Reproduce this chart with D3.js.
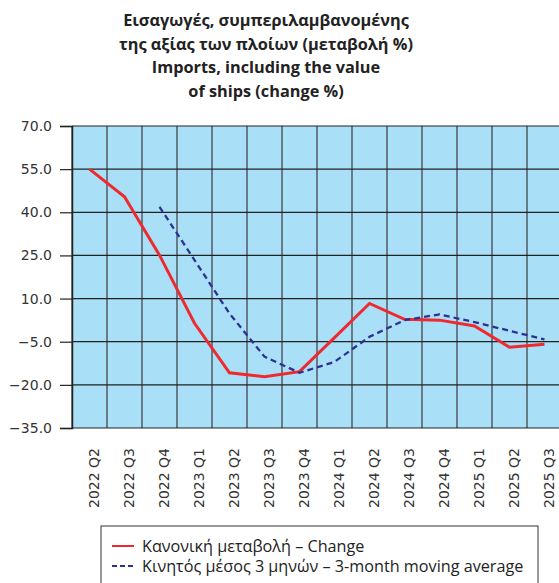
<!DOCTYPE html>
<html><head><meta charset="utf-8">
<script src="https://cdn.jsdelivr.net/npm/d3@7"></script>
<style>body{margin:0;background:#fff;} svg{display:block;}</style>
</head><body>
<svg id="c" width="559" height="583"></svg>
<script>
const categories = ["2022 Q2","2022 Q3","2022 Q4","2023 Q1","2023 Q2","2023 Q3","2023 Q4","2024 Q1","2024 Q2","2024 Q3","2024 Q4","2025 Q1","2025 Q2","2025 Q3"];
const changeValues = [55.0, 45.4, 25.1, 1.4, -15.8, -17.2, -15.4, -3.6, 8.3, 2.8, 2.5, 0.5, -6.9, -5.9];
const movingAvgValues = [null, null, 41.9, 23.4, 4.8, -10.2, -15.8, -12.0, -3.3, 2.5, 4.5, 1.8, -1.2, -4.2];
const yTicks = [70, 55, 40, 25, 10, -5, -20, -35];
const titleLines = ["Εισαγωγές, συμπεριλαμβανομένης","της αξίας των πλοίων (μεταβολή %)","Imports, including the value","of ships (change %)"];
const legendItems = [
  {label:"Κανονική μεταβολή – Change", color:"#ee2a2f", dash:null},
  {label:"Κινητός μέσος 3 μηνών – 3-month moving average", color:"#2e3192", dash:"5,3"}
];

const svg = d3.select("#c");
const L = 72, T = 126, W = 490, H = 302;
const x = d3.scaleBand().domain(categories).range([L, L+W]).padding(0);
const y = d3.scaleLinear().domain([-35, 70]).range([T+H, T]);

// title
svg.append("g").selectAll("text").data(titleLines).join("text")
  .attr("x", 266).attr("y", (d,i)=>26 + i*23.5)
  .attr("text-anchor","middle")
  .style("font-family","'Open Sans', sans-serif").style("font-weight","bold").style("font-size","16.3px").style("fill","#222")
  .text(d=>d);

// plot bg
svg.append("rect").attr("x",L).attr("y",T).attr("width",W).attr("height",H).attr("fill","#aadff8");

// vertical grid
const vx = categories.map(c=>x(c)).concat([L+W]);
svg.append("g").selectAll("line").data(vx).join("line")
  .attr("x1",d=>d).attr("x2",d=>d).attr("y1",T).attr("y2",T+H)
  .attr("stroke","#3a3a3a").attr("stroke-width",1.2);

// y axis with ticks extending as gridlines
const yAxis = d3.axisLeft(y).tickValues(yTicks).tickFormat(d3.format(".1f")).tickSize(12).tickPadding(8);
const ya = svg.append("g").attr("transform",`translate(${L},0)`).call(yAxis);
ya.select(".domain").attr("stroke","#222").attr("stroke-width",1.5);
ya.selectAll(".tick line").attr("stroke","#222").attr("stroke-width",1.2);
ya.selectAll(".tick text").style("font-family","'DejaVu Sans', sans-serif").style("font-size","14px").style("fill","#333");
svg.append("g").selectAll("line").data(yTicks).join("line")
  .attr("x1",L).attr("x2",L+W).attr("y1",d=>y(d)).attr("y2",d=>y(d))
  .attr("stroke","#222").attr("stroke-width",1.2);

// x axis
const xAxis = d3.axisBottom(x).tickSize(0).tickPadding(0);
const xa = svg.append("g").attr("transform",`translate(0,${T+H})`).call(xAxis);
xa.select(".domain").remove();
xa.selectAll(".tick text")
  .attr("transform","translate(5,20) rotate(-90)")
  .attr("text-anchor","end").attr("dy","0.35em").attr("y",0)
  .style("font-family","'DejaVu Sans', sans-serif").style("font-size","14px").style("fill","#333");

const cx = c => x(c) + x.bandwidth()/2;
// lines
const redLine = d3.line().x((d,i)=>cx(categories[i])).y(d=>y(d));
svg.append("path").datum(changeValues).attr("d",redLine)
  .attr("fill","none").attr("stroke","#ee2a2f").attr("stroke-width",3).attr("stroke-linejoin","miter");
const blueLine = d3.line().defined(d=>d!==null).x((d,i)=>cx(categories[i])).y(d=>y(d));
svg.append("path").datum(movingAvgValues).attr("d",blueLine)
  .attr("fill","none").attr("stroke","#2e3192").attr("stroke-width",2.3).attr("stroke-dasharray","6,4");

// legend
svg.append("rect").attr("x",101).attr("y",526).attr("width",437).attr("height",70)
  .attr("fill","#fff").attr("stroke","#333").attr("stroke-width",1);
const lg = svg.append("g").selectAll("g").data(legendItems).join("g")
  .attr("transform",(d,i)=>`translate(0,${546 + i*20})`);
lg.append("line").attr("x1",112).attr("x2",134).attr("y1",0).attr("y2",0)
  .attr("stroke",d=>d.color).attr("stroke-width",2).attr("stroke-dasharray",d=>d.dash);
lg.append("text").attr("x",142).attr("y",0).attr("dy","0.35em")
  .style("font-family","'Open Sans', sans-serif").style("font-size","16.2px").style("fill","#222")
  .text(d=>d.label);
</script>
</body></html>
